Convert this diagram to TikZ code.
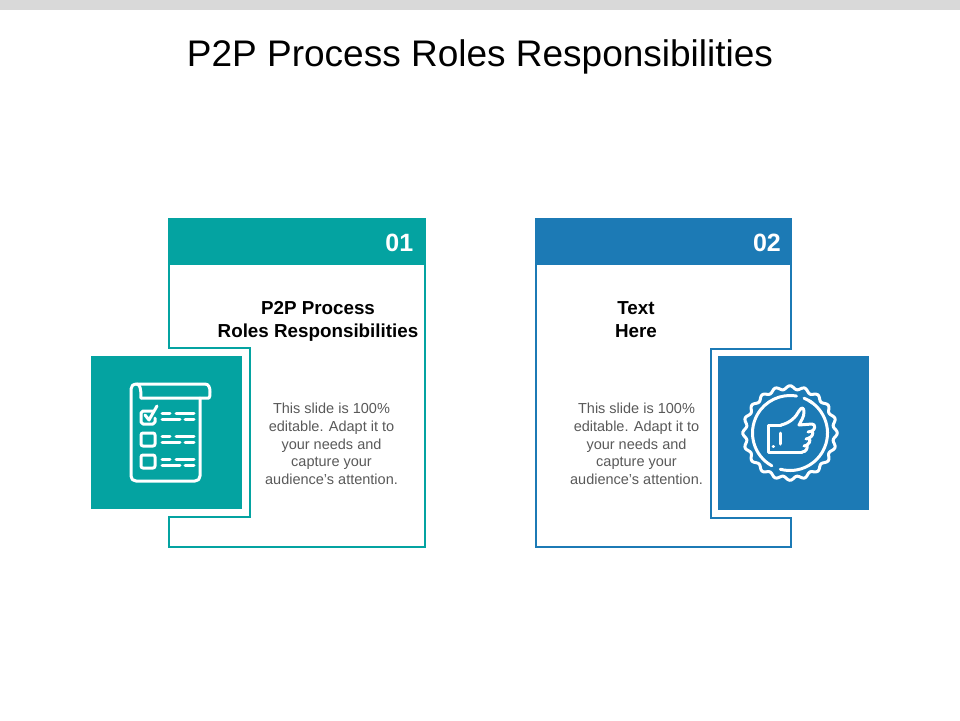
\documentclass[tikz,border=0pt]{standalone}
\usepackage{fontspec}
\setmainfont{Liberation Sans}
\definecolor{tealbox}{HTML}{04A3A1}
\definecolor{bluebox}{HTML}{1C7AB5}
\definecolor{bodygrey}{HTML}{595959}
\definecolor{topgrey}{HTML}{D9D9D9}
\tikzset{
  header/.style = {rectangle, anchor=north west, minimum height=47pt, inner sep=0pt},
  iconbox/.style = {rectangle, anchor=north west, inner sep=0pt},
  frame/.style = {line width=2pt, line join=miter},
  number/.style = {font=\bfseries\fontsize{25}{25}\selectfont, text=white, anchor=east, inner sep=0pt},
  heading/.style = {font=\bfseries\fontsize{18.8}{23}\selectfont, align=center, inner sep=0pt, text=black},
  bodytext/.style = {font=\fontsize{14.5}{17.8}\selectfont, align=center, inner sep=0pt, text=bodygrey},
  icon/.style = {draw=white, line width=3pt, line cap=round, line join=round}
}

\begin{document}
\begin{tikzpicture}[x=1pt, y=-1pt]
    \useasboundingbox (0,0) rectangle (960,720);

    % Top band and title
    \fill[topgrey] (0,0) rectangle (960,10);
    \node[font=\fontsize{37}{37}\selectfont, inner sep=0pt] (title) at (480,57) {P2P Process Roles Responsibilities};

    % Card 01
    \draw[frame, tealbox] (169,348) -- (169,219) -- (425,219) -- (425,547) -- (169,547) -- (169,517) -- (250,517) -- (250,348) -- cycle;
    \node[header, fill=tealbox, minimum width=258pt] (headA) at (168,218) {};
    \node[number] (numA) at (413.5,243) {01};
    \node[heading] (titleA) at (318,321) {P2P Process\\Roles Responsibilities};
    \node[bodytext] (textA) at (331.5,444) {This slide is 100\%\\editable. Adapt it to\\your needs and\\capture your\\audience's attention.};
    \node[iconbox, fill=tealbox, minimum width=151pt, minimum height=153pt] (iconA) at (91,356) {};

    % Card 02
    \draw[frame, bluebox] (791,349) -- (791,219) -- (536,219) -- (536,547) -- (791,547) -- (791,518) -- (711,518) -- (711,349) -- cycle;
    \node[header, fill=bluebox, minimum width=256pt] (headB) at (535.5,218) {};
    \node[number] (numB) at (781,243) {02};
    \node[heading] (titleB) at (636,319.5) {Text\\Here};
    \node[bodytext] (textB) at (636.5,444) {This slide is 100\%\\editable. Adapt it to\\your needs and\\capture your\\audience's attention.};
    \node[iconbox, fill=bluebox, minimum width=151pt, minimum height=154pt] (iconB) at (718,356) {};

    % Icon: checklist
    \draw[icon] (137,384) -- (205,384) .. controls (209,384) and (210,388) .. (210,392) .. controls (210,395) and (210,397) .. (209,398) -- (141,398);
    \draw[icon] (137,384) .. controls (133,384) and (131,386) .. (131,389) -- (131,476) .. controls (131,479) and (133,481) .. (136,481) -- (195,481) .. controls (198,481) and (200,479) .. (200,476) -- (200,398);
    \draw[icon] (137,384) .. controls (140,385) and (141,388) .. (141,398);
    \draw[icon] (153,411) -- (143,411) -- (141,413) -- (141,422) -- (143,424) -- (153,424) -- (155,422) -- (155,418);
    \draw[icon] (145,415) -- (149,420) -- (157,406);
    \draw[icon, rounded corners=2pt] (141,433) rectangle (155,446);
    \draw[icon, rounded corners=2pt] (141,455) rectangle (155,468);
    \foreach \ypos in {413,436,459}{
      \draw[icon] (162,\ypos) -- (170,\ypos);
      \draw[icon] (176,\ypos) -- (194,\ypos);
      \draw[icon] (162,\ypos+6) -- (180,\ypos+6);
      \draw[icon] (185,\ypos+6) -- (194,\ypos+6);
    }

    % Icon: badge with thumb
    \draw[icon] plot[smooth, samples=180, domain=0:360] ({790+(45.5+1.8*cos(20*\x))*cos(\x)}, {433+(45.5+1.8*cos(20*\x))*sin(\x)}) -- cycle;
    \draw[icon] (790,433) ++(-68:37.5) arc (-68:105:37.5);
    \draw[icon] (790,433) ++(119:37.5) arc (119:280:37.5);
    \draw[icon] (790,433) ++(-60:37.5) arc (-60:-53:37.5);
    \draw[icon] (781,425) -- (768,425) -- (768,452) -- (802,452);
    \draw[icon] (780,433) -- (780,444);
    \draw[icon] (773,446) -- (773.5,446);
    \draw[icon] (781,425) .. controls (790,423) and (796,417) .. (799,411) .. controls (802,406) and (804,408) .. (804,412) .. controls (804,417) and (801,421) .. (799,425) -- (812,424) .. controls (816,424) and (815,430) .. (812,431) -- (808,432);
    \draw[icon] (812,431) .. controls (814,433) and (812,437) .. (809,438) -- (806,439);
    \draw[icon] (809,438) .. controls (811,441) and (809,444) .. (807,445) -- (804,446);
    \draw[icon] (807,445) .. controls (808,448) and (806,452) .. (802,452);

\end{tikzpicture}
\end{document}
